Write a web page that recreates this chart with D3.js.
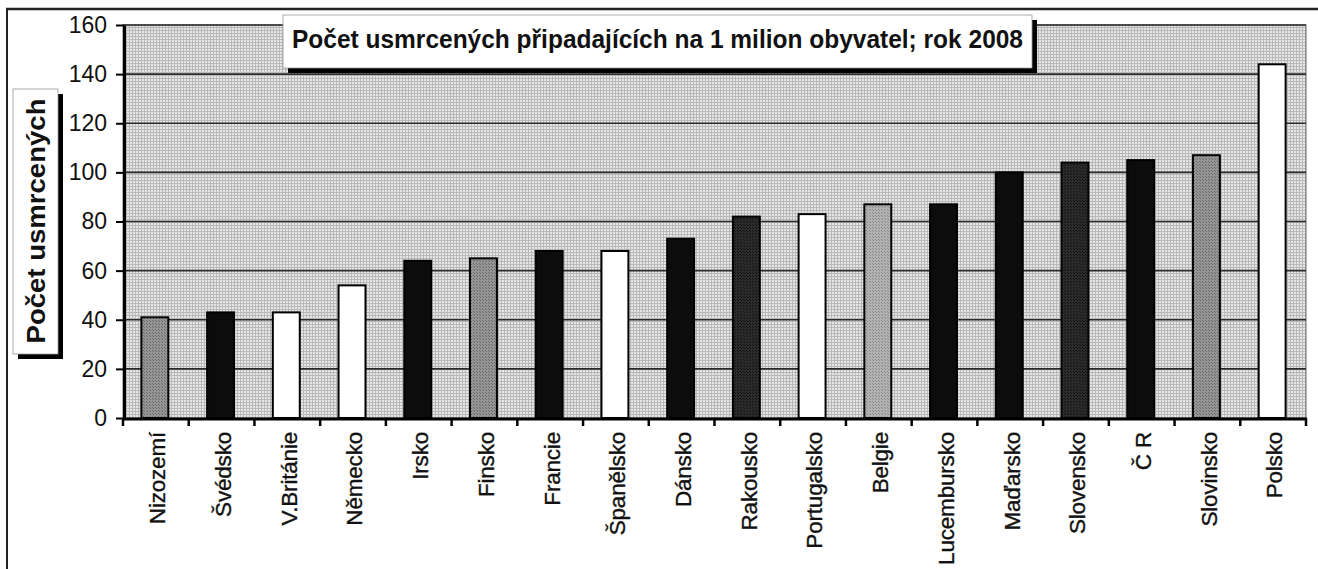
<!DOCTYPE html>
<html>
<head>
<meta charset="UTF-8">
<title>Počet usmrcených 2008</title>
<script src="https://cdn.jsdelivr.net/npm/d3@7"></script>
<style>
body { margin: 0; background: #fff; }
svg text { font-family: "Liberation Sans", Arial, sans-serif; fill: #111; }
</style>
</head>
<body>
<script>
// data
var categories = ["Nizozemí", "Švédsko", "V.Británie", "Německo", "Irsko", "Finsko",
  "Francie", "Španělsko", "Dánsko", "Rakousko", "Portugalsko", "Belgie",
  "Lucembursko", "Maďarsko", "Slovensko", "Č R", "Slovinsko", "Polsko"];
var values = [41, 43, 43, 54, 64, 65, 68, 68, 73, 82, 83, 87, 87, 100, 104, 105, 107, 144];
// shade group of each bar (mapped to a fill below)
var shades = ["šedá", "černá", "bílá", "bílá", "černá", "šedá", "černá", "bílá", "černá",
  "tmavá", "bílá", "světlá", "černá", "černá", "tmavá", "černá", "šedá", "bílá"];
var yTicks = [0, 20, 40, 60, 80, 100, 120, 140, 160];
var chartTitle = "Počet usmrcených připadajících na 1 milion obyvatel; rok 2008";
var yTitle = "Počet usmrcených";

var W = 1318, H = 569;
var plot = {left: 123, right: 1306, top: 25, bottom: 418};

var svg = d3.select("body").append("svg")
  .attr("width", W)
  .attr("height", H);

var defs = svg.append("defs");

// stippled grey background like the scanned chart
var bg = defs.append("pattern")
  .attr("id", "bg")
  .attr("patternUnits", "userSpaceOnUse")
  .attr("width", 3).attr("height", 3);
bg.append("rect").attr("width", 3).attr("height", 3).attr("fill", "#e6e6e6");
bg.append("rect").attr("width", 3).attr("height", 1).attr("fill", "#b8b8b8");
bg.append("rect").attr("width", 1).attr("height", 3).attr("fill", "#b8b8b8");

function stipple(id, base, dot) {
  var p = defs.append("pattern")
    .attr("id", id)
    .attr("patternUnits", "userSpaceOnUse")
    .attr("width", 3).attr("height", 3);
  p.append("rect").attr("width", 3).attr("height", 3).attr("fill", base);
  p.append("rect").attr("width", 1).attr("height", 1).attr("fill", dot);
  p.append("rect").attr("x", 2).attr("y", 2).attr("width", 1).attr("height", 1).attr("fill", dot);
}
stipple("grey", "#959595", "#6a6a6a");
stipple("light", "#b2b2b2", "#8a8a8a");
stipple("dark", "#2c2c2c", "#111");

var fill = d3.scaleOrdinal()
  .domain(["šedá", "světlá", "černá", "tmavá", "bílá"])
  .range(["url(#grey)", "url(#light)", "#0c0c0c", "url(#dark)", "#ffffff"]);

// scales
var x = d3.scaleBand()
  .domain(categories)
  .range([plot.left, plot.right])
  .padding(0);

var y = d3.scaleLinear()
  .domain([0, 160])
  .range([plot.bottom, plot.top]);

// outer frame (top and left edge of the scan)
svg.append("line")
  .attr("x1", 6).attr("x2", W).attr("y1", 9).attr("y2", 9)
  .attr("stroke", "#222").attr("stroke-width", 2.5);
svg.append("line")
  .attr("x1", 7).attr("x2", 7).attr("y1", 8).attr("y2", H)
  .attr("stroke", "#222").attr("stroke-width", 2);

// plot area
svg.append("rect")
  .attr("x", plot.left).attr("y", plot.top)
  .attr("width", plot.right - plot.left)
  .attr("height", plot.bottom - plot.top)
  .attr("fill", "url(#bg)")
  .attr("stroke", "#666").attr("stroke-width", 1);

// gridlines
svg.append("g").selectAll("line")
  .data(yTicks.filter(function(t) { return t > 0; }))
  .enter().append("line")
    .attr("x1", plot.left).attr("x2", plot.right)
    .attr("y1", function(d) { return y(d); })
    .attr("y2", function(d) { return y(d); })
    .attr("stroke", "#2a2a2a")
    .attr("stroke-width", 1.6);

// bars
var barW = x.bandwidth() * 0.41;
svg.append("g").selectAll("rect")
  .data(categories)
  .enter().append("rect")
    .attr("x", function(d) { return x(d) + (x.bandwidth() - barW) / 2 - 1; })
    .attr("y", function(d, i) { return y(values[i]); })
    .attr("width", barW)
    .attr("height", function(d, i) { return y(0) - y(values[i]); })
    .attr("fill", function(d, i) { return fill(shades[i]); })
    .attr("stroke", "#000")
    .attr("stroke-width", 2);

// y axis
var yAxis = d3.axisLeft(y)
  .tickValues(yTicks)
  .tickSize(8)
  .tickSizeOuter(0)
  .tickPadding(9);

var gy = svg.append("g")
  .attr("transform", "translate(" + (plot.left + 1) + ",0)")
  .call(yAxis);
gy.select(".domain").attr("stroke", "#000").attr("stroke-width", 3);
gy.selectAll(".tick line").attr("stroke", "#000").attr("stroke-width", 2);
gy.selectAll(".tick text")
  .style("font-size", "23px")
  .attr("fill", "#111");

// x axis line and boundary ticks
svg.append("line")
  .attr("x1", plot.left).attr("x2", plot.right + 1)
  .attr("y1", y(0) + 1).attr("y2", y(0) + 1)
  .attr("stroke", "#000").attr("stroke-width", 3);

var bounds = categories.map(function(c) { return x(c); }).concat([plot.right]);
svg.append("g").selectAll("line")
  .data(bounds)
  .enter().append("line")
    .attr("x1", function(d) { return d; })
    .attr("x2", function(d) { return d; })
    .attr("y1", y(0))
    .attr("y2", y(0) + 8)
    .attr("stroke", "#000")
    .attr("stroke-width", 2.5);

// x labels, rotated
svg.append("g").selectAll("text")
  .data(categories)
  .enter().append("text")
    .attr("transform", function(d) {
      return "translate(" + (x(d) + x.bandwidth() / 2 + 1) + "," + (y(0) + 14) + ") rotate(-90)";
    })
    .attr("text-anchor", "end")
    .attr("dy", "0.37em")
    .style("font-size", "22.5px")
    .style("stroke", "#111")
    .style("stroke-width", "0.35px")
    .style("letter-spacing", "-0.2px")
    .text(function(d) { return d; });

// title box with shadow
svg.append("rect")
  .attr("x", 288).attr("y", 20).attr("width", 749).attr("height", 53)
  .attr("fill", "#000");
svg.append("rect")
  .attr("x", 283).attr("y", 15).attr("width", 749).attr("height", 53)
  .attr("fill", "#fff")
  .attr("stroke", "#999").attr("stroke-width", 0.8);
svg.append("text")
  .attr("x", 292).attr("y", 48)
  .attr("textLength", 731)
  .attr("lengthAdjust", "spacingAndGlyphs")
  .style("font-size", "25px")
  .style("font-weight", "bold")
  .text(chartTitle);

// y title box with shadow
svg.append("rect")
  .attr("x", 18).attr("y", 94).attr("width", 45).attr("height", 265)
  .attr("fill", "#000");
svg.append("rect")
  .attr("x", 13).attr("y", 89).attr("width", 45).attr("height", 265)
  .attr("fill", "#fff")
  .attr("stroke", "#999").attr("stroke-width", 0.8);
svg.append("text")
  .attr("transform", "translate(45,221) rotate(-90)")
  .attr("text-anchor", "middle")
  .attr("textLength", 245)
  .attr("lengthAdjust", "spacingAndGlyphs")
  .style("font-size", "25px")
  .style("font-weight", "bold")
  .text(yTitle);
</script>
</body>
</html>
